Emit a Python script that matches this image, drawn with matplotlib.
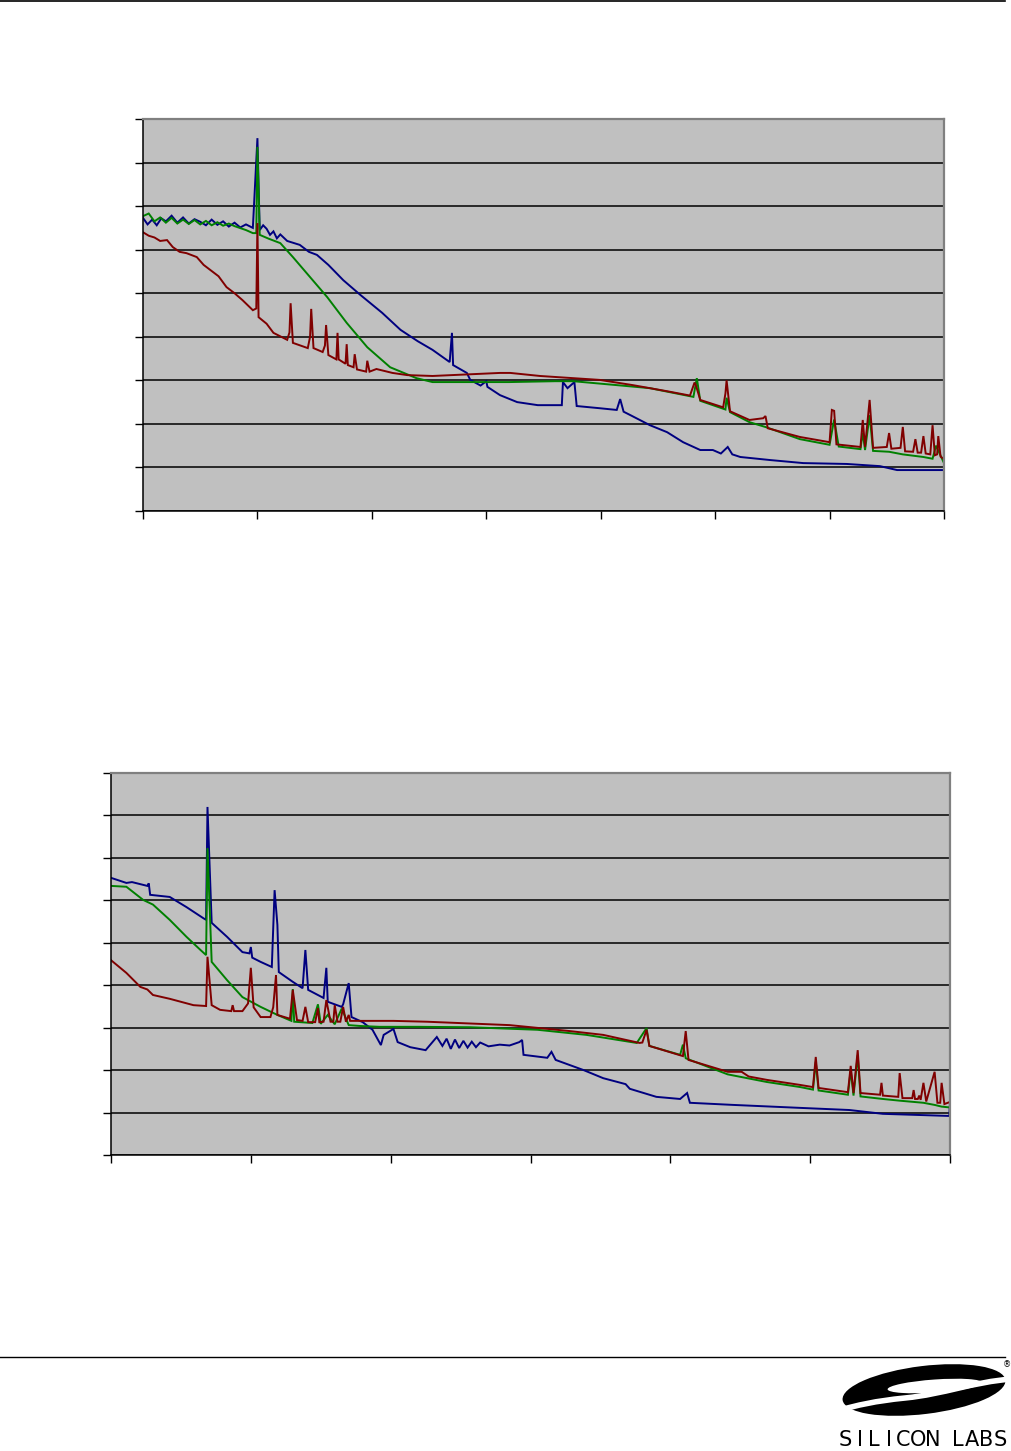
import matplotlib
matplotlib.use("Agg")
import matplotlib.pyplot as plt
from matplotlib.lines import Line2D
from matplotlib.patches import Ellipse, PathPatch
from matplotlib.path import Path

# ---------------- data: top chart (x in tick units 0..7, y in 0..90) ----------------
top_blue_x = [0, 0.04, 0.08, 0.12, 0.16, 0.2, 0.25, 0.3, 0.35, 0.4, 0.45, 0.5, 0.55, 0.6, 0.65,
              0.7, 0.75, 0.8, 0.85, 0.9, 0.96, 1.0, 1.02, 1.05, 1.08, 1.11, 1.14, 1.17, 1.20,
              1.26, 1.37, 1.45, 1.52, 1.62, 1.75, 1.90, 2.09, 2.25, 2.40, 2.53, 2.68, 2.70, 2.71,
              2.83, 2.86, 2.95, 3.0, 3.01, 3.12, 3.27, 3.45, 3.66, 3.67, 3.71, 3.77, 3.79, 3.99,
              4.14, 4.17, 4.20, 4.26, 4.43, 4.58, 4.72, 4.87, 4.98, 5.05, 5.11, 5.15, 5.22, 5.48,
              5.77, 6.15, 6.44, 6.59, 7.0]
top_blue_y = [67.3, 65.8, 66.9, 65.6, 67.2, 66.5, 67.8, 66.2, 67.4, 66.0, 67.0, 66.4, 65.6, 66.9,
              65.7, 66.5, 65.3, 66.2, 65.1, 65.8, 65.0, 85.6, 64.5, 65.6, 64.8, 63.4, 64.2, 62.6,
              63.5, 62.0, 61.1, 59.5, 58.8, 56.5, 53.0, 49.6, 45.5, 41.6, 39.0, 37.0, 34.2,
              40.9, 33.5, 31.7, 30.1, 28.8, 29.8, 28.5, 26.6, 25.0, 24.3, 24.3, 29.6, 28.2, 29.6,
              24.1, 23.6, 23.2, 25.7, 22.8, 22.0, 19.7, 18.1, 15.8, 14.0, 14.0, 13.2, 14.7, 13.0,
              12.4, 11.7, 11.0, 10.8, 10.3, 9.4, 9.4]

top_green_x = [0, 0.05, 0.1, 0.15, 0.2, 0.25, 0.3, 0.35, 0.4, 0.45, 0.5, 0.55, 0.6, 0.65, 0.7,
               0.75, 0.8, 0.9, 0.96, 0.99, 1.0, 1.02, 1.10, 1.20, 1.31, 1.46, 1.61, 1.78, 1.96,
               2.16, 2.39, 2.53, 2.8, 3.2, 3.6, 3.76, 4.14, 4.43, 4.81, 4.84, 4.87, 5.09, 5.10,
               5.13, 5.30, 5.45, 5.74, 6.0, 6.04, 6.08, 6.27, 6.29, 6.31, 6.35, 6.38, 6.52, 6.64,
               6.82, 6.90, 6.93, 7.0]
top_green_y = [67.7, 68.3, 66.5, 67.4, 66.2, 67.3, 66.0, 66.9, 65.9, 66.8, 65.8, 66.6, 65.6,
               66.3, 65.5, 66.0, 65.4, 64.5, 63.8, 63.8, 83.6, 63.4, 62.5, 61.5, 58.3, 53.7, 49.1,
               43.2, 37.6, 33.0, 30.5, 29.6, 29.6, 29.6, 29.8, 29.8, 28.9, 28.2, 26.2, 30.5, 25.3,
               23.3, 26.0, 22.7, 20.4, 19.2, 16.5, 15.2, 21.0, 14.8, 14.2, 18.0, 14.0, 22.0, 13.8,
               13.6, 13.0, 12.4, 12.0, 15.0, 11.0]

top_red_x = [0, 0.05, 0.1, 0.15, 0.21, 0.26, 0.32, 0.38, 0.47, 0.53, 0.59, 0.66, 0.73, 0.80,
             0.87, 0.96, 0.99, 1.0, 1.01, 1.08, 1.14, 1.26, 1.28, 1.29, 1.31, 1.44, 1.46, 1.47,
             1.49, 1.57, 1.59, 1.60, 1.62, 1.69, 1.70, 1.71, 1.77, 1.78, 1.79, 1.84, 1.85, 1.87,
             1.95, 1.96, 1.98, 2.04, 2.18, 2.31, 2.53, 3.12, 3.21, 3.47, 3.99, 4.28, 4.58, 4.78,
             4.82, 4.83, 4.87, 5.07, 5.09, 5.10, 5.13, 5.30, 5.42, 5.44, 5.46, 5.74, 6.0, 6.02,
             6.04, 6.06, 6.27, 6.29, 6.31, 6.35, 6.38, 6.50, 6.52, 6.54, 6.62, 6.64, 6.66, 6.73,
             6.75, 6.77, 6.80, 6.82, 6.84, 6.88, 6.90, 6.92, 6.94, 6.95, 6.97, 7.0]
top_red_y = [64.0, 63.2, 62.8, 62.0, 62.2, 60.6, 59.5, 59.2, 58.3, 56.5, 55.3, 53.9, 51.4, 50.0,
             48.4, 46.1, 46.5, 66.1, 44.5, 43.0, 40.9, 39.3, 41.0, 47.7, 38.6, 37.4, 40.0, 46.4,
             37.4, 36.5, 38.0, 42.7, 35.8, 34.8, 40.9, 34.8, 33.8, 38.3, 33.5, 33.0, 36.0, 32.5,
             32.0, 34.5, 32.0, 32.6, 31.7, 31.2, 31.0, 31.7, 31.7, 31.0, 30.1, 28.9, 27.5, 26.5,
             29.5, 29.0, 25.5, 23.8, 27.0, 30.0, 22.9, 20.9, 21.3, 21.8, 19.0, 17.0, 15.8, 23.2,
             23.0, 15.3, 14.7, 20.9, 14.7, 25.5, 14.5, 14.7, 17.9, 14.3, 14.5, 19.3, 13.7, 13.6,
             16.5, 13.4, 13.4, 17.2, 13.2, 13.0, 19.7, 12.8, 13.0, 17.2, 12.5, 11.9]

top_xticks = [0, 1, 2, 3, 4, 5, 6, 7]
top_yticks = [0, 10, 20, 30, 40, 50, 60, 70, 80, 90]

# ---------------- data: bottom chart (x in tick units 0..6, y in 0..90) ----------------
bot_blue_x = [0, 0.11, 0.15, 0.26, 0.27, 0.28, 0.42, 0.54, 0.66, 0.68, 0.69, 0.72, 0.83, 0.94,
              0.99, 1.0, 1.01, 1.07, 1.15, 1.17, 1.19, 1.20, 1.30, 1.37, 1.39, 1.41, 1.52, 1.54,
              1.55, 1.65, 1.66, 1.70, 1.72, 1.80, 1.87, 1.93, 1.95, 2.02, 2.05, 2.14, 2.25, 2.33,
              2.37, 2.40, 2.43, 2.46, 2.49, 2.52, 2.55, 2.58, 2.61, 2.64, 2.70, 2.78, 2.85, 2.92,
              2.94, 2.95, 3.12, 3.15, 3.18, 3.38, 3.52, 3.68, 3.71, 3.90, 4.07, 4.12, 4.14, 4.45,
              4.93, 5.28, 5.52, 5.995, 6.0]
bot_blue_y = [65.3, 64.1, 64.3, 63.4, 64.0, 61.3, 60.8, 58.4, 55.8, 55.4, 82.0, 54.7, 51.4, 47.8,
              47.5, 49.0, 46.5, 45.5, 44.3, 62.4, 54.2, 43.1, 40.8, 39.3, 48.3, 38.9, 37.0, 44.1,
              36.1, 34.9, 35.5, 40.5, 32.5, 31.3, 29.5, 25.9, 28.3, 29.7, 26.6, 25.4, 24.7, 27.8,
              25.7, 27.4, 25.0, 27.2, 25.2, 26.9, 25.3, 26.7, 25.4, 26.5, 25.6, 26.0, 25.8, 26.6,
              27.1, 23.6, 22.9, 24.3, 22.4, 20.0, 18.1, 16.7, 15.6, 13.7, 13.2, 14.6, 12.3, 11.8,
              11.1, 10.6, 9.7, 9.2, 12.5]

bot_green_x = [0, 0.11, 0.23, 0.30, 0.42, 0.54, 0.64, 0.68, 0.69, 0.72, 0.83, 0.94, 1.07, 1.19,
               1.29, 1.30, 1.31, 1.44, 1.48, 1.50, 1.55, 1.60, 1.65, 1.70, 1.78, 1.92, 2.2, 2.57,
               3.05, 3.40, 3.76, 3.83, 3.85, 4.07, 4.09, 4.11, 4.14, 4.41, 4.69, 4.93, 5.02, 5.04,
               5.06, 5.27, 5.29, 5.31, 5.34, 5.36, 5.52, 5.64, 5.81, 5.89, 5.94, 6.0]
bot_green_y = [63.4, 63.2, 60.1, 59.0, 55.4, 51.4, 48.3, 47.1, 72.3, 45.5, 41.2, 37.2, 34.9, 33.0,
               31.6, 39.1, 31.4, 31.1, 35.5, 30.9, 33.0, 30.8, 34.5, 30.6, 30.4, 30.2, 30.2, 30.1,
               29.5, 28.3, 26.4, 29.9, 25.7, 23.6, 26.0, 22.8, 22.4, 19.0, 17.2, 16.0, 15.4, 22.0,
               15.2, 14.2, 20.0, 14.0, 23.5, 13.8, 13.2, 12.8, 12.3, 11.8, 11.4, 11.2]

bot_red_x = [0, 0.11, 0.21, 0.26, 0.30, 0.42, 0.59, 0.68, 0.69, 0.72, 0.78, 0.86, 0.87, 0.88,
             0.94, 0.98, 1.0, 1.02, 1.07, 1.14, 1.16, 1.18, 1.19, 1.28, 1.30, 1.33, 1.37, 1.39,
             1.41, 1.46, 1.48, 1.49, 1.52, 1.54, 1.57, 1.59, 1.60, 1.62, 1.64, 1.66, 1.68, 1.70,
             1.71, 1.78, 2.02, 2.26, 2.85, 3.28, 3.52, 3.78, 3.80, 3.83, 3.85, 4.09, 4.11, 4.13,
             4.41, 4.51, 4.56, 4.69, 4.93, 5.02, 5.04, 5.06, 5.27, 5.29, 5.31, 5.34, 5.36, 5.50,
             5.51, 5.52, 5.63, 5.64, 5.66, 5.73, 5.74, 5.75, 5.77, 5.78, 5.79, 5.81, 5.83, 5.89,
             5.91, 5.93, 5.94, 5.96, 6.0]
bot_red_y = [45.9, 42.9, 39.6, 39.0, 37.7, 36.8, 35.3, 35.1, 46.7, 35.3, 34.2, 33.9, 35.3, 33.9,
             33.9, 35.7, 44.1, 34.8, 32.5, 32.5, 34.8, 42.4, 33.0, 32.1, 38.9, 31.8, 31.6, 34.9,
             31.3, 31.3, 34.6, 31.3, 31.4, 36.5, 31.4, 31.4, 35.3, 31.4, 31.4, 34.9, 31.4, 33.0,
             31.6, 31.6, 31.6, 31.4, 30.6, 29.2, 28.3, 26.4, 26.5, 29.5, 25.7, 23.3, 29.2, 22.4,
             19.6, 19.6, 18.5, 17.7, 16.5, 16.0, 23.1, 15.8, 14.8, 21.0, 14.6, 24.7, 14.6, 14.2,
             17.0, 14.0, 13.7, 19.3, 13.4, 13.4, 15.3, 13.2, 13.2, 14.0, 13.0, 17.0, 12.6, 19.6,
             12.3, 12.3, 17.0, 12.0, 12.5]

bot_xticks = [0, 1, 2, 3, 4, 5, 6]
bot_yticks = [0, 10, 20, 30, 40, 50, 60, 70, 80, 90]

logo_letters = ["S", "I", "L", "I", "C", "O", "N", "L", "A", "B", "S"]

BLUE = "#000080"
GREEN = "#008000"
RED = "#800000"
W, H = 1011, 1451

fig = plt.figure(figsize=(W / 100, H / 100), dpi=100)
fig.patch.set_facecolor("white")


def make_axes(rect_px, xticks, yticks, series):
    x0, y0, x1, y1 = rect_px
    ax = fig.add_axes([x0 / W, 1 - y1 / H, (x1 - x0) / W, (y1 - y0) / H])
    ax.set_facecolor("#C0C0C0")
    ax.set_xlim(xticks[0], xticks[-1])
    ax.set_ylim(yticks[0], yticks[-1])
    ax.set_xticks(xticks)
    ax.set_yticks(yticks)
    ax.set_xticklabels([])
    ax.set_yticklabels([])
    ax.tick_params(axis="both", direction="out", length=6, width=1.0, color="black")
    ax.yaxis.grid(True, color="black", linewidth=1.1)
    ax.xaxis.grid(False)
    ax.set_axisbelow(True)
    for side in ("top", "right"):
        ax.spines[side].set_color("#808080")
        ax.spines[side].set_linewidth(1.6)
    for side in ("left", "bottom"):
        ax.spines[side].set_color("black")
        ax.spines[side].set_linewidth(1.1)
    for xs, ys, c in series:
        ax.plot(xs, ys, color=c, linewidth=1.4, solid_joinstyle="miter", clip_on=True)
    return ax


make_axes((143, 119, 944, 511), top_xticks, top_yticks,
          [(top_blue_x, top_blue_y, BLUE), (top_green_x, top_green_y, GREEN),
           (top_red_x, top_red_y, RED)])
make_axes((111, 773, 950, 1155), bot_xticks, bot_yticks,
          [(bot_blue_x, bot_blue_y, BLUE), (bot_green_x, bot_green_y, GREEN),
           (bot_red_x, bot_red_y, RED)])

# page header / footer rules
fig.add_artist(Line2D([0, 1005 / W], [1 - 1 / H, 1 - 1 / H], color="black", linewidth=1.2,
                      transform=fig.transFigure))
fig.add_artist(Line2D([0, 1005 / W], [1 - 1357 / H, 1 - 1357 / H], color="black",
                      linewidth=1.0, transform=fig.transFigure))

# Silicon Labs logo (approximate)
lax = fig.add_axes([820 / W, 0, 191 / W, 111 / H])
lax.set_xlim(820, 1011)
lax.set_ylim(1451, 1340)
lax.axis("off")
lax.add_patch(Ellipse((924, 1390), 164, 48, angle=-7, facecolor="black", edgecolor="none"))
verts = [(1012, 1379), (972, 1382), (945, 1394), (905, 1398),
         (875, 1401), (858, 1405), (836, 1411)]
codes = [Path.MOVETO, Path.CURVE4, Path.CURVE4, Path.CURVE4, Path.CURVE4, Path.CURVE4,
         Path.CURVE4]
lax.add_patch(PathPatch(Path(verts, codes), facecolor="none", edgecolor="white",
                        linewidth=4, capstyle="butt"))
lax.add_patch(Ellipse((935, 1386), 95, 13, angle=-4, facecolor="white", edgecolor="none"))
lax.text(1007, 1365, "®", fontsize=6, ha="center", va="center", family="DejaVu Sans")
letter_x = [845, 860, 874, 889, 903, 918, 933, 958, 972, 986, 1000]
for lx, ch in zip(letter_x, logo_letters):
    lax.text(lx, 1440, ch, fontsize=15, ha="center", va="center",
             family="Liberation Sans Narrow", color="black")

fig.savefig("out.png", dpi=100)
